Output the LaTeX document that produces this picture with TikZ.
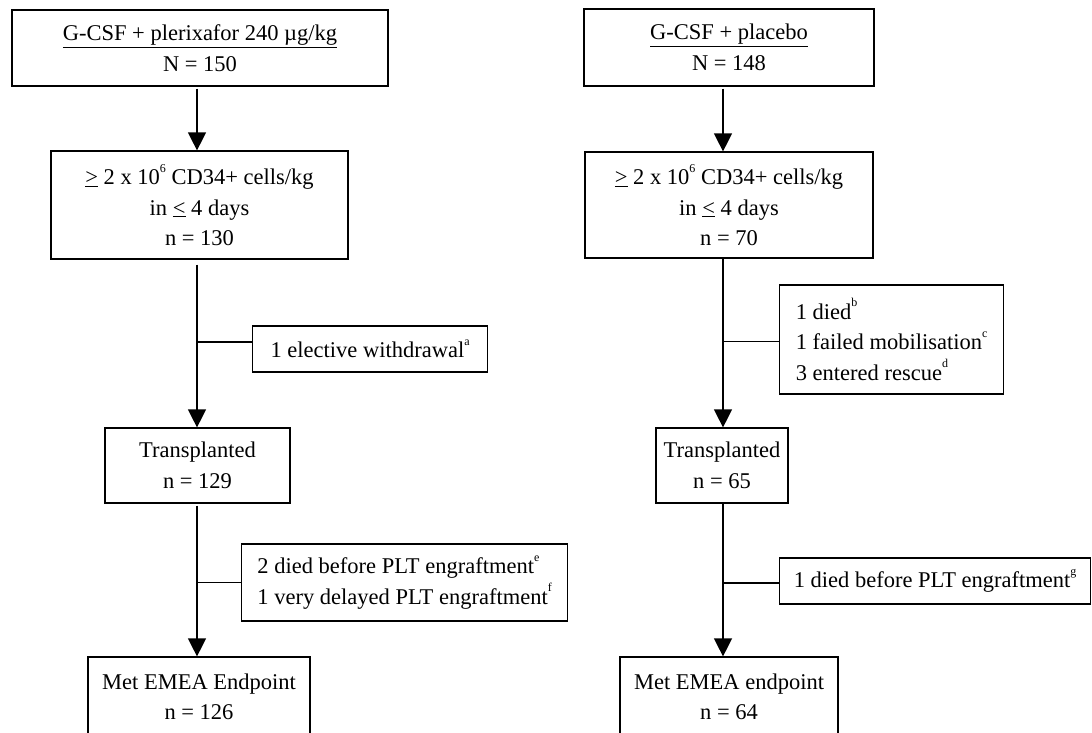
\documentclass[tikz,border=0pt]{standalone}
\usepackage{fontspec}
\setmainfont{Liberation Serif}
\usetikzlibrary{arrows.meta}
\tikzset {>={Triangle[width=18pt,length=18pt]}}
\tikzset{
  box/.style={draw,line width=1.2pt,align=center,inner sep=0pt},
  sidebox/.style={draw,line width=1.2pt,align=left,anchor=west,inner sep=0pt},
  flow/.style={line width=1.3pt,->},
  branch/.style={line width=1.2pt},
}
\newcommand{\fnmark}[1]{\raisebox{0.55em}{\fontsize{12}{12}\selectfont #1}}

\begin{document}
\begin{tikzpicture}[x=1pt,y=-1pt,font=\fontsize{22.5}{30.5}\selectfont]

% Page frame, the bottom boxes run off it
\clip (0,0) rectangle (1092,733);

% Axes of the two arms
\coordinate (axL) at (197,0);
\coordinate (axR) at (723,0);

% Plerixafor arm
\node [box,minimum width=376pt,minimum height=76pt] (plx) at (200,48)
   {\underline{G-CSF + plerixafor 240 µg/kg}\\N = 150};
\node [box,minimum width=297pt,minimum height=108pt] (cd34l) at (199.5,205)
   {\underline{>} 2 x 10\fnmark{6} CD34+ cells/kg\\in \underline{<} 4 days\\n = 130};
\node [sidebox,minimum width=235pt,minimum height=46pt] (wd) at (252,349)
   {1 elective withdrawal\fnmark{a}};
\node [box,minimum width=185pt,minimum height=75pt] (trl) at (197.5,465.5)
   {Transplanted\\n = 129};
\node [sidebox,minimum width=326pt,minimum height=77pt] (pltl) at (241,582.5)
   {2 died before PLT engraftment\fnmark{e}\\1 very delayed PLT engraftment\fnmark{f}};
\node [box,minimum width=222pt,minimum height=80pt] (metl) at (199,697)
   {Met EMEA Endpoint\\n = 126};

% Placebo arm
\node [box,minimum width=290pt,minimum height=77pt] (pla) at (729,47.5)
   {\underline{G-CSF + placebo}\\N = 148};
\node [box,minimum width=288pt,minimum height=106pt] (cd34r) at (729,205)
   {\underline{>} 2 x 10\fnmark{6} CD34+ cells/kg\\in \underline{<} 4 days\\n = 70};
\node [sidebox,minimum width=224pt,minimum height=109pt] (res) at (779,339.5)
   {1 died\fnmark{b}\\1 failed mobilisation\fnmark{c}\\3 entered rescue\fnmark{d}};
\node [box,minimum width=132pt,minimum height=75pt] (trr) at (722,465.5)
   {Transplanted\\n = 65};
\node [sidebox,minimum width=311pt,minimum height=46pt] (pltr) at (779,581)
   {1 died before PLT engraftment\fnmark{g}};
\node [box,minimum width=218pt,minimum height=80pt] (metr) at (729,697)
   {Met EMEA endpoint\\n = 64};

% Arrows down the left arm
\draw [flow] ([yshift=-2pt]plx.south -| axL) -- (cd34l.north -| axL);
\draw [flow] ([yshift=-5pt]cd34l.south -| axL) -- (trl.north -| axL);
\draw [flow] ([yshift=-2pt]trl.south -| axL) -- (metl.north -| axL);

% Arrows down the right arm
\draw [flow] ([yshift=-2pt]pla.south -| axR) -- (cd34r.north -| axR);
\draw [flow] (cd34r.south -| axR) -- (trr.north -| axR);
\draw [flow] (trr.south -| axR) -- (metr.north -| axR);

% Branches to the side boxes
\coordinate (wdin) at ([yshift=7pt]wd.west);
\draw [line width=2.4pt] (wdin -| axL) -- (wdin);
\draw [branch] (pltl.west -| axL) -- (pltl.west);
\coordinate (resin) at ([yshift=-2pt]res.west);
\draw [branch] (resin -| axR) -- (resin);
\coordinate (pltrin) at ([yshift=-2pt]pltr.west);
\draw [branch] (pltrin -| axR) -- (pltrin);
\end{tikzpicture}
\end{document}
